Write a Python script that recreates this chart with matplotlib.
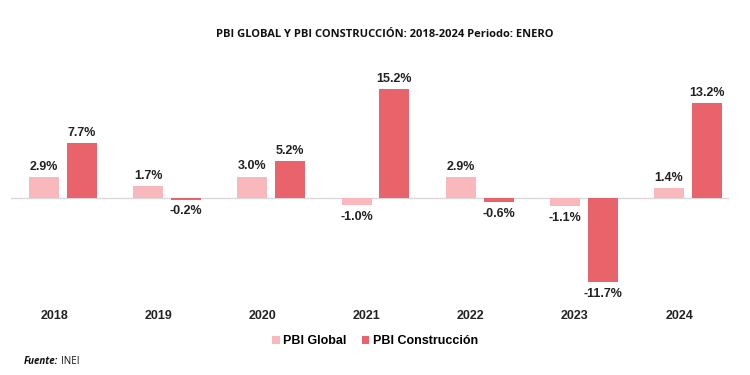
import matplotlib
matplotlib.use("Agg")
import matplotlib.pyplot as plt
import numpy as np

years = ["2018", "2019", "2020", "2021", "2022", "2023", "2024"]
pbi_global = [2.9, 1.7, 3.0, -1.0, 2.9, -1.1, 1.4]
pbi_construccion = [7.7, -0.2, 5.2, 15.2, -0.6, -11.7, 13.2]

c_global = "#F9B8BC"
c_constr = "#E8636A"

plt.rcParams["font.family"] = ["Liberation Sans", "DejaVu Sans"]

fig = plt.figure(figsize=(7.5, 3.75), dpi=100)
ax = fig.add_axes([0.0147, 0.2133, 0.972, 0.584])

x = np.arange(len(years))
w = 0.288
off = 0.182
b1 = ax.bar(x - off, pbi_global, w, color=c_global, label="PBI Global")
b2 = ax.bar(x + off, pbi_construccion, w, color=c_constr, label="PBI Construcción")

for bars, vals in ((b1, pbi_global), (b2, pbi_construccion)):
    for b, v in zip(bars, vals):
        cx = b.get_x() + b.get_width() / 2
        if v >= 0:
            ax.annotate(f"{v:.1f}%", (cx, v), xytext=(0, 3), textcoords="offset points",
                        ha="center", va="bottom", fontsize=9, fontweight="bold", color="#222222")
        else:
            ax.annotate(f"{v:.1f}%", (cx, v), xytext=(0, -4), textcoords="offset points",
                        ha="center", va="top", fontsize=9, fontweight="bold", color="#222222")

ax.axhline(0, xmin=0, xmax=0.983, color="#D9D9D9", lw=1, zorder=0)
ax.set_xlim(-0.5, len(years) - 0.5)
ax.set_ylim(-13.5, 17)
ax.set_yticks([])
ax.set_xticks(x - 0.085)
ax.set_xticklabels(years, fontsize=9, fontweight="bold", color="#222222")
ax.tick_params(axis="x", length=0, pad=11)
for s in ax.spines.values():
    s.set_visible(False)

fig.text(0.513, 0.907, "PBI GLOBAL Y PBI CONSTRUCCIÓN: 2018-2024 Periodo: ENERO",
         ha="center", va="center", fontsize=8, fontweight="bold",
         family=["Open Sans", "DejaVu Sans"], color="#111111")

fig.legend(handles=[b1, b2], loc="center", bbox_to_anchor=(0.5, 0.09), ncol=2,
           frameon=False, handlelength=0.6, handleheight=0.6,
           handletextpad=0.3, columnspacing=1.2, prop={"weight": "bold", "size": 9})

fig.text(0.032, 0.035, "Fuente:", ha="left", va="center", fontsize=7,
         fontweight="bold", style="italic", family=["Open Sans", "DejaVu Sans"], color="#111111")
fig.text(0.081, 0.035, "INEI", ha="left", va="center", fontsize=7,
         family=["Open Sans", "DejaVu Sans"], color="#111111")

fig.savefig("out.png", dpi=100, facecolor="white")
